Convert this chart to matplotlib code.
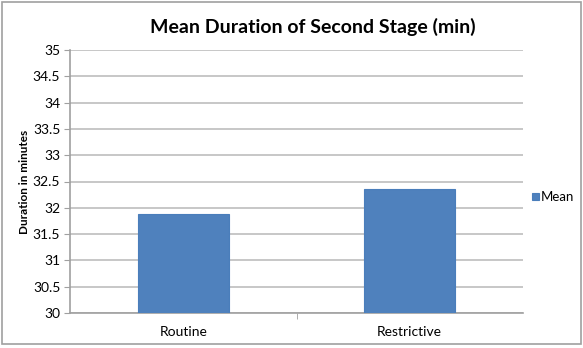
import matplotlib
matplotlib.use("Agg")
import matplotlib.pyplot as plt
from matplotlib.patches import Rectangle

categories = ["Routine", "Restrictive"]
mean_minutes = [31.88, 32.35]
yticks = [30, 30.5, 31, 31.5, 32, 32.5, 33, 33.5, 34, 34.5, 35]
ytick_labels = ["30", "30.5", "31", "31.5", "32", "32.5", "33", "33.5", "34", "34.5", "35"]

W, H = 583, 348
plt.rcParams["font.family"] = ["Lato", "DejaVu Sans"]

fig = plt.figure(figsize=(W / 100, H / 100), dpi=100)
fig.patch.set_facecolor("white")

# outer chart frame
fig.add_artist(Rectangle((1.5 / W, 1 - 344 / H), (581 - 1.5) / W, (344 - 1.5) / H,
                         transform=fig.transFigure, fill=False,
                         edgecolor="#a0a0a0", linewidth=1.2))

ax = fig.add_axes([70 / W, 1 - 313 / H, (523 - 70) / W, (313 - 50) / H])
x = list(range(len(categories)))
bars = ax.bar(x, mean_minutes, width=0.4, bottom=0, color="#4f81bd",
              edgecolor="#4a7ebb", linewidth=0.8, label="Mean", zorder=3)

ax.set_xlim(-0.5, len(categories) - 0.5)
ax.set_ylim(30, 35)
ax.set_yticks(yticks)
ax.set_yticklabels(ytick_labels, fontsize=10)
ax.set_xticks(x)
ax.set_xticklabels(categories, fontsize=10)
ax.tick_params(axis="x", length=0, pad=9)
ax.set_xticks([0.5], minor=True)
ax.tick_params(axis="x", which="minor", length=4, color="#a0a0a0")
ax.tick_params(axis="y", length=4, color="#a0a0a0", pad=3)

ax.grid(axis="y", color="#bdbdbd", linewidth=1.2, zorder=0)
for side in ["top", "right"]:
    ax.spines[side].set_visible(False)
for side in ["left", "bottom"]:
    ax.spines[side].set_color("#a0a0a0")
    ax.spines[side].set_linewidth(1.2)

ax.set_ylabel("Duration in minutes", fontsize=8.5, fontweight="bold", labelpad=2)
fig.text(313 / W, 1 - 27 / H, "Mean Duration of Second Stage (min)",
         ha="center", va="center", fontsize=14, fontweight="bold")

fig.legend(handles=[bars], labels=["Mean"], loc="center left",
           bbox_to_anchor=(532 / W, 1 - 197 / H), frameon=False, fontsize=9.5,
           handlelength=0.5, handleheight=0.5, handletextpad=0.2, borderpad=0,
           borderaxespad=0)

fig.savefig("out.png", dpi=100)
